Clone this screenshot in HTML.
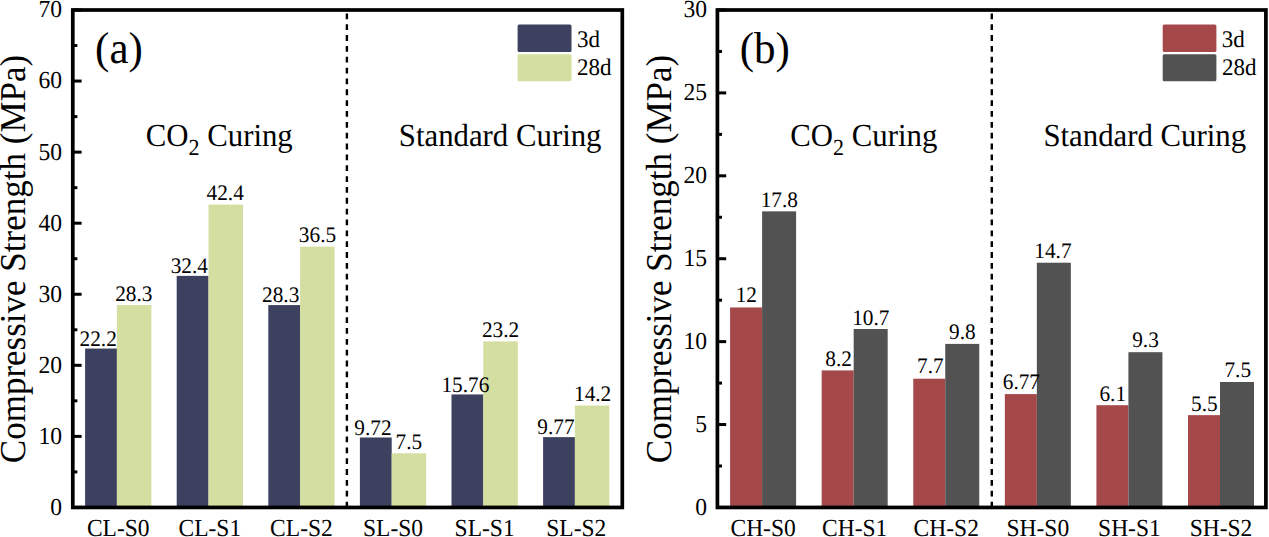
<!DOCTYPE html>
<html><head><meta charset="utf-8"><style>
html,body{margin:0;padding:0;background:#fff;width:1269px;height:537px;overflow:hidden}
svg{display:block}
text{font-family:"Liberation Serif", serif;fill:#000;text-rendering:geometricPrecision}
</style></head><body>
<svg width="1269" height="537" viewBox="0 0 1269 537">
<rect x="85.10" y="348.55" width="31.80" height="158.90" fill="#3d4160"/>
<rect x="116.90" y="305.08" width="34.50" height="202.37" fill="#d4dea0"/>
<text transform="translate(118.25 535.60) scale(1 1.04)" font-size="23.5" text-anchor="middle">CL-S0</text>
<rect x="176.70" y="275.87" width="31.80" height="231.58" fill="#3d4160"/>
<rect x="208.50" y="204.61" width="34.50" height="302.84" fill="#d4dea0"/>
<text transform="translate(209.85 535.60) scale(1 1.04)" font-size="23.5" text-anchor="middle">CL-S1</text>
<rect x="268.30" y="305.08" width="31.80" height="202.37" fill="#3d4160"/>
<rect x="300.10" y="246.65" width="34.50" height="260.80" fill="#d4dea0"/>
<text transform="translate(301.45 535.60) scale(1 1.04)" font-size="23.5" text-anchor="middle">CL-S2</text>
<rect x="359.90" y="437.49" width="31.80" height="69.96" fill="#3d4160"/>
<rect x="391.70" y="453.31" width="34.50" height="54.14" fill="#d4dea0"/>
<text transform="translate(393.05 535.60) scale(1 1.04)" font-size="23.5" text-anchor="middle">SL-S0</text>
<rect x="451.50" y="394.44" width="31.80" height="113.01" fill="#3d4160"/>
<rect x="483.30" y="341.43" width="34.50" height="166.02" fill="#d4dea0"/>
<text transform="translate(484.65 535.60) scale(1 1.04)" font-size="23.5" text-anchor="middle">SL-S1</text>
<rect x="543.10" y="437.13" width="31.80" height="70.32" fill="#3d4160"/>
<rect x="574.90" y="405.56" width="34.50" height="101.89" fill="#d4dea0"/>
<text transform="translate(576.25 535.60) scale(1 1.04)" font-size="23.5" text-anchor="middle">SL-S2</text>
<text transform="translate(79.54 345.90) scale(1 1.04)" font-size="21.3">22.2</text>
<text transform="translate(115.14 300.90) scale(1 1.04)" font-size="21.3">28.3</text>
<text transform="translate(170.63 273.30) scale(1 1.04)" font-size="21.3">32.4</text>
<text transform="translate(206.57 200.10) scale(1 1.04)" font-size="21.3">42.4</text>
<text transform="translate(262.04 302.10) scale(1 1.04)" font-size="21.3">28.3</text>
<text transform="translate(298.83 242.20) scale(1 1.04)" font-size="21.3">36.5</text>
<text transform="translate(354.36 435.10) scale(1 1.04)" font-size="21.3">9.72</text>
<text transform="translate(395.52 448.70) scale(1 1.04)" font-size="21.3">7.5</text>
<text transform="translate(441.38 391.80) scale(1 1.04)" font-size="21.3">15.76</text>
<text transform="translate(481.94 336.70) scale(1 1.04)" font-size="21.3">23.2</text>
<text transform="translate(537.26 433.80) scale(1 1.04)" font-size="21.3">9.77</text>
<text transform="translate(573.98 401.40) scale(1 1.04)" font-size="21.3">14.2</text>
<line x1="346.9" y1="13.4" x2="346.9" y2="507.45" stroke="#000" stroke-width="2.4" stroke-dasharray="5.8 5.05"/>
<line x1="72.80" y1="507.45" x2="81.60" y2="507.45" stroke="#000" stroke-width="3"/>
<text transform="translate(62.00 514.85) scale(1 1.04)" font-size="23.6" text-anchor="end">0</text>
<line x1="72.80" y1="436.39" x2="81.60" y2="436.39" stroke="#000" stroke-width="3"/>
<text transform="translate(62.00 443.79) scale(1 1.04)" font-size="23.6" text-anchor="end">10</text>
<line x1="72.80" y1="365.32" x2="81.60" y2="365.32" stroke="#000" stroke-width="3"/>
<text transform="translate(62.00 372.72) scale(1 1.04)" font-size="23.6" text-anchor="end">20</text>
<line x1="72.80" y1="294.26" x2="81.60" y2="294.26" stroke="#000" stroke-width="3"/>
<text transform="translate(62.00 301.66) scale(1 1.04)" font-size="23.6" text-anchor="end">30</text>
<line x1="72.80" y1="223.19" x2="81.60" y2="223.19" stroke="#000" stroke-width="3"/>
<text transform="translate(62.00 230.59) scale(1 1.04)" font-size="23.6" text-anchor="end">40</text>
<line x1="72.80" y1="152.13" x2="81.60" y2="152.13" stroke="#000" stroke-width="3"/>
<text transform="translate(62.00 159.53) scale(1 1.04)" font-size="23.6" text-anchor="end">50</text>
<line x1="72.80" y1="81.06" x2="81.60" y2="81.06" stroke="#000" stroke-width="3"/>
<text transform="translate(62.00 88.46) scale(1 1.04)" font-size="23.6" text-anchor="end">60</text>
<line x1="72.80" y1="10.00" x2="81.60" y2="10.00" stroke="#000" stroke-width="3"/>
<text transform="translate(62.00 17.40) scale(1 1.04)" font-size="23.6" text-anchor="end">70</text>
<line x1="72.80" y1="471.92" x2="77.40" y2="471.92" stroke="#000" stroke-width="3"/>
<line x1="72.80" y1="400.85" x2="77.40" y2="400.85" stroke="#000" stroke-width="3"/>
<line x1="72.80" y1="329.79" x2="77.40" y2="329.79" stroke="#000" stroke-width="3"/>
<line x1="72.80" y1="258.73" x2="77.40" y2="258.73" stroke="#000" stroke-width="3"/>
<line x1="72.80" y1="187.66" x2="77.40" y2="187.66" stroke="#000" stroke-width="3"/>
<line x1="72.80" y1="116.60" x2="77.40" y2="116.60" stroke="#000" stroke-width="3"/>
<line x1="72.80" y1="45.53" x2="77.40" y2="45.53" stroke="#000" stroke-width="3"/>
<rect x="72.8" y="10.0" width="549.50" height="497.45" fill="none" stroke="#000" stroke-width="3.7"/>
<rect x="517.6" y="24.6" width="53.90" height="27.30" fill="#3d4160" rx="1.5"/>
<rect x="517.6" y="54.2" width="53.90" height="27.10" fill="#d4dea0" rx="1.5"/>
<text transform="translate(576.90 46.60) scale(1 1.04)" font-size="23">3d</text>
<text transform="translate(577.10 74.50) scale(1 1.04)" font-size="23">28d</text>
<text transform="translate(95.10 62.50) scale(1 1.04)" font-size="43">(a)</text>
<text transform="translate(145.70 146.40) scale(1 1.04)" font-size="30.8">CO<tspan font-size="22" dy="8">2</tspan><tspan dy="-8"> Curing</tspan></text>
<text transform="translate(398.80 145.50) scale(1 1.04)" font-size="30.8">Standard Curing</text>
<text transform="translate(24.90 259.00) rotate(-90) scale(1 1.04)" font-size="35" text-anchor="middle">Compressive Strength (MPa)</text>
<rect x="730.10" y="307.45" width="32.00" height="200.00" fill="#a5484a"/>
<rect x="762.10" y="211.36" width="34.00" height="296.09" fill="#525252"/>
<text transform="translate(763.10 535.60) scale(1 1.04)" font-size="23.5" text-anchor="middle">CH-S0</text>
<rect x="821.68" y="370.41" width="32.00" height="137.04" fill="#a5484a"/>
<rect x="853.68" y="328.99" width="34.00" height="178.46" fill="#525252"/>
<text transform="translate(854.68 535.60) scale(1 1.04)" font-size="23.5" text-anchor="middle">CH-S1</text>
<rect x="913.26" y="378.70" width="32.00" height="128.75" fill="#a5484a"/>
<rect x="945.26" y="343.90" width="34.00" height="163.55" fill="#525252"/>
<text transform="translate(946.26 535.60) scale(1 1.04)" font-size="23.5" text-anchor="middle">CH-S2</text>
<rect x="1004.84" y="394.10" width="32.00" height="113.35" fill="#a5484a"/>
<rect x="1036.84" y="262.72" width="34.00" height="244.73" fill="#525252"/>
<text transform="translate(1037.84 535.60) scale(1 1.04)" font-size="23.5" text-anchor="middle">SH-S0</text>
<rect x="1096.42" y="405.21" width="32.00" height="102.24" fill="#a5484a"/>
<rect x="1128.42" y="352.19" width="34.00" height="155.26" fill="#525252"/>
<text transform="translate(1129.42 535.60) scale(1 1.04)" font-size="23.5" text-anchor="middle">SH-S1</text>
<rect x="1188.00" y="415.15" width="32.00" height="92.30" fill="#a5484a"/>
<rect x="1220.00" y="382.01" width="34.00" height="125.44" fill="#525252"/>
<text transform="translate(1221.00 535.60) scale(1 1.04)" font-size="23.5" text-anchor="middle">SH-S2</text>
<text transform="translate(735.68 302.30) scale(1 1.04)" font-size="21.3">12</text>
<text transform="translate(760.68 206.60) scale(1 1.04)" font-size="21.3">17.8</text>
<text transform="translate(825.35 365.60) scale(1 1.04)" font-size="21.3">8.2</text>
<text transform="translate(852.18 324.50) scale(1 1.04)" font-size="21.3">10.7</text>
<text transform="translate(917.02 373.40) scale(1 1.04)" font-size="21.3">7.7</text>
<text transform="translate(949.06 339.30) scale(1 1.04)" font-size="21.3">9.8</text>
<text transform="translate(1002.74 389.40) scale(1 1.04)" font-size="21.3">6.77</text>
<text transform="translate(1034.28 257.70) scale(1 1.04)" font-size="21.3">14.7</text>
<text transform="translate(1099.44 400.80) scale(1 1.04)" font-size="21.3">6.1</text>
<text transform="translate(1132.16 347.20) scale(1 1.04)" font-size="21.3">9.3</text>
<text transform="translate(1191.02 410.90) scale(1 1.04)" font-size="21.3">5.5</text>
<text transform="translate(1224.42 377.00) scale(1 1.04)" font-size="21.3">7.5</text>
<line x1="991.8" y1="13.4" x2="991.8" y2="507.45" stroke="#000" stroke-width="2.4" stroke-dasharray="5.8 5.05"/>
<line x1="717.40" y1="507.45" x2="726.20" y2="507.45" stroke="#000" stroke-width="3"/>
<text transform="translate(707.10 514.85) scale(1 1.04)" font-size="23.6" text-anchor="end">0</text>
<line x1="717.40" y1="424.54" x2="726.20" y2="424.54" stroke="#000" stroke-width="3"/>
<text transform="translate(707.10 431.94) scale(1 1.04)" font-size="23.6" text-anchor="end">5</text>
<line x1="717.40" y1="341.63" x2="726.20" y2="341.63" stroke="#000" stroke-width="3"/>
<text transform="translate(707.10 349.03) scale(1 1.04)" font-size="23.6" text-anchor="end">10</text>
<line x1="717.40" y1="258.73" x2="726.20" y2="258.73" stroke="#000" stroke-width="3"/>
<text transform="translate(707.10 266.12) scale(1 1.04)" font-size="23.6" text-anchor="end">15</text>
<line x1="717.40" y1="175.82" x2="726.20" y2="175.82" stroke="#000" stroke-width="3"/>
<text transform="translate(707.10 183.22) scale(1 1.04)" font-size="23.6" text-anchor="end">20</text>
<line x1="717.40" y1="92.91" x2="726.20" y2="92.91" stroke="#000" stroke-width="3"/>
<text transform="translate(707.10 100.31) scale(1 1.04)" font-size="23.6" text-anchor="end">25</text>
<line x1="717.40" y1="10.00" x2="726.20" y2="10.00" stroke="#000" stroke-width="3"/>
<text transform="translate(707.10 17.40) scale(1 1.04)" font-size="23.6" text-anchor="end">30</text>
<line x1="717.40" y1="466.00" x2="722.00" y2="466.00" stroke="#000" stroke-width="3"/>
<line x1="717.40" y1="383.09" x2="722.00" y2="383.09" stroke="#000" stroke-width="3"/>
<line x1="717.40" y1="300.18" x2="722.00" y2="300.18" stroke="#000" stroke-width="3"/>
<line x1="717.40" y1="217.27" x2="722.00" y2="217.27" stroke="#000" stroke-width="3"/>
<line x1="717.40" y1="134.36" x2="722.00" y2="134.36" stroke="#000" stroke-width="3"/>
<line x1="717.40" y1="51.45" x2="722.00" y2="51.45" stroke="#000" stroke-width="3"/>
<rect x="717.4" y="10.0" width="548.50" height="497.45" fill="none" stroke="#000" stroke-width="3.7"/>
<rect x="1162.7" y="24.6" width="53.70" height="27.30" fill="#a5484a" rx="1.5"/>
<rect x="1162.7" y="54.2" width="53.70" height="27.10" fill="#525252" rx="1.5"/>
<text transform="translate(1221.80 46.60) scale(1 1.04)" font-size="23">3d</text>
<text transform="translate(1222.00 74.50) scale(1 1.04)" font-size="23">28d</text>
<text transform="translate(739.80 62.50) scale(1 1.04)" font-size="43">(b)</text>
<text transform="translate(790.30 146.40) scale(1 1.04)" font-size="30.8">CO<tspan font-size="22" dy="8">2</tspan><tspan dy="-8"> Curing</tspan></text>
<text transform="translate(1043.40 145.50) scale(1 1.04)" font-size="30.8">Standard Curing</text>
<text transform="translate(670.50 259.00) rotate(-90) scale(1 1.04)" font-size="35" text-anchor="middle">Compressive Strength (MPa)</text>
</svg>
</body></html>
